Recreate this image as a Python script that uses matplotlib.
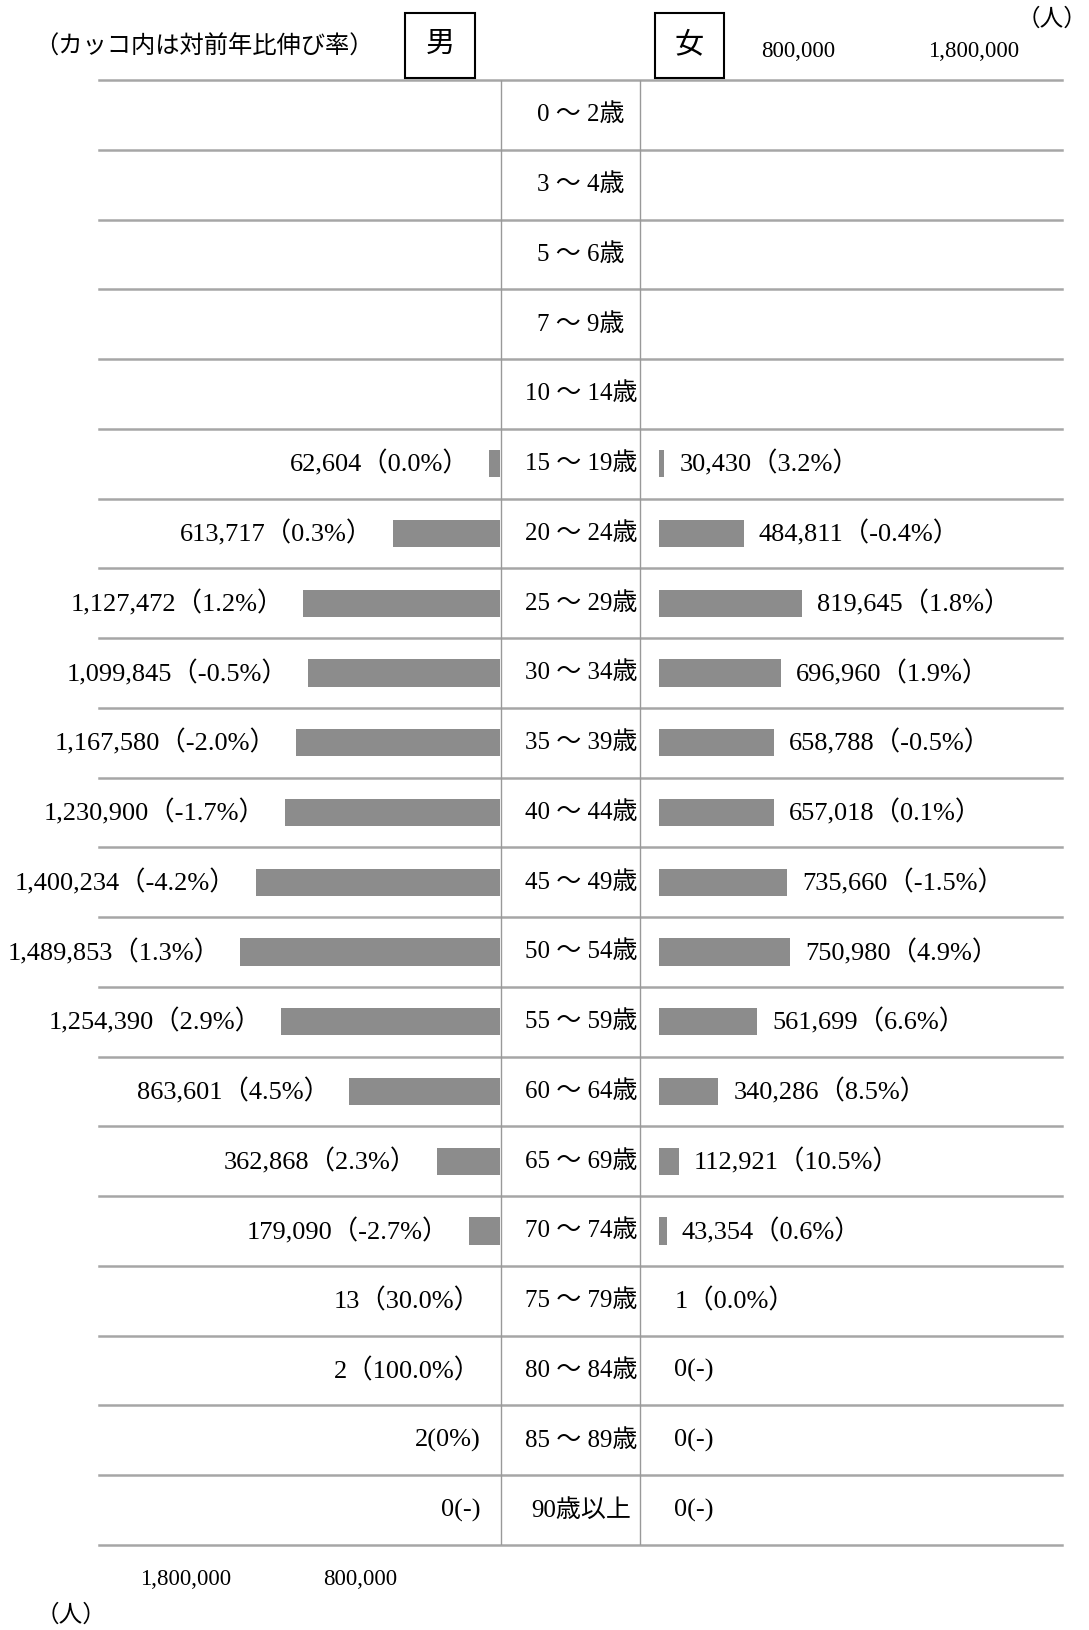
import matplotlib.pyplot as plt
from matplotlib.patches import Rectangle

plt.rcParams['font.family'] = ['Liberation Serif', 'Noto Sans CJK JP']

ages = ['0 ～ 2歳', '3 ～ 4歳', '5 ～ 6歳', '7 ～ 9歳', '10 ～ 14歳',
        '15 ～ 19歳', '20 ～ 24歳', '25 ～ 29歳', '30 ～ 34歳', '35 ～ 39歳',
        '40 ～ 44歳', '45 ～ 49歳', '50 ～ 54歳', '55 ～ 59歳', '60 ～ 64歳',
        '65 ～ 69歳', '70 ～ 74歳', '75 ～ 79歳', '80 ～ 84歳', '85 ～ 89歳',
        '90歳以上']
male = [0, 0, 0, 0, 0, 62604, 613717, 1127472, 1099845, 1167580, 1230900,
        1400234, 1489853, 1254390, 863601, 362868, 179090, 13, 2, 2, 0]
male_rate = [None, None, None, None, None, '（0.0%）', '（0.3%）', '（1.2%）',
             '（-0.5%）', '（-2.0%）', '（-1.7%）', '（-4.2%）', '（1.3%）',
             '（2.9%）', '（4.5%）', '（2.3%）', '（-2.7%）', '（30.0%）',
             '（100.0%）', '(0%)', '(-)']
female = [0, 0, 0, 0, 0, 30430, 484811, 819645, 696960, 658788, 657018,
          735660, 750980, 561699, 340286, 112921, 43354, 1, 0, 0, 0]
female_rate = [None, None, None, None, None, '（3.2%）', '（-0.4%）', '（1.8%）',
               '（1.9%）', '（-0.5%）', '（0.1%）', '（-1.5%）', '（4.9%）',
               '（6.6%）', '（8.5%）', '（10.5%）', '（0.6%）', '（0.0%）',
               '(-)', '(-)', '(-)']
ticks = [800000, 1800000]
tick_labels = ['800,000', '1,800,000']

W, H = 1089, 1630
fig = plt.figure(figsize=(W / 100, H / 100), dpi=100)


def rect(x0, y0, x1, y1):
    return [x0 / W, 1 - y1 / H, (x1 - x0) / W, (y1 - y0) / H]


top, bot = 80, 1545
n = len(ages)
per_m = 174.6  # px per million
ypos = [i + 0.5 for i in range(n)]
bar_color = '#8c8c8c'
fs = 19

# grid lines
ax_bg = fig.add_axes(rect(99, top, 1062, bot))
ax_bg.set_xlim(99, 1062)
ax_bg.set_ylim(n, 0)
ax_bg.axis('off')
for k in range(n + 1):
    ax_bg.axhline(k, color='#a6a6a6', lw=1.8, clip_on=False)
ax_bg.vlines([501, 640], 0, n, color='#999999', lw=1)
for y, a in zip(ypos, ages):
    ax_bg.text(581, y, a, ha='center', va='center', fontsize=18)

# male
ax_m = fig.add_axes(rect(99, top, 500, bot))
ax_m.set_xlim(401 / per_m * 1e6, 0)
ax_m.set_ylim(n, 0)
ax_m.barh(ypos, male, height=0.39, color=bar_color)
for y, v, r in zip(ypos, male, male_rate):
    if r is None:
        continue
    ax_m.annotate(f'{v:,}{r}', (v, y), xytext=(-14, 0), textcoords='offset points',
                  ha='right', va='center', fontsize=fs)
ax_m.set_xticks(ticks, tick_labels, fontsize=16.5)
ax_m.tick_params(length=0, pad=17, left=False, labelleft=False)
for s in ax_m.spines.values():
    s.set_visible(False)
ax_m.patch.set_alpha(0)

# female
ax_f = fig.add_axes(rect(659, top, 1062, bot))
ax_f.set_xlim(0, 403 / per_m * 1e6)
ax_f.set_ylim(n, 0)
ax_f.barh(ypos, female, height=0.39, color=bar_color)
for y, v, r in zip(ypos, female, female_rate):
    if r is None:
        continue
    ax_f.annotate(f'{v:,}{r}', (v, y), xytext=(11, 0), textcoords='offset points',
                  ha='left', va='center', fontsize=fs)
ax_f.xaxis.tick_top()
ax_f.set_xticks(ticks, tick_labels, fontsize=16.5)
ax_f.tick_params(length=0, pad=13, left=False, labelleft=False)
for s in ax_f.spines.values():
    s.set_visible(False)
ax_f.patch.set_alpha(0)

# header
fig.text(34 / W, 1 - 47 / H, '（カッコ内は対前年比伸び率）', ha='left', va='center', fontsize=17.5)
for x0, x1, t in [(405, 475, '男'), (655, 724, '女')]:
    fig.add_artist(Rectangle((x0 / W, 1 - 78 / H), (x1 - x0) / W, 65 / H,
                             transform=fig.transFigure, fill=False, ec='black', lw=1.5))
    fig.text((x0 + x1) / 2 / W, 1 - 45 / H, t, ha='center', va='center', fontsize=21)
fig.text(1087 / W, 1 - 19 / H, '（人）', ha='right', va='center', fontsize=17)
fig.text(71 / W, 1 - 1616 / H, '（人）', ha='center', va='center', fontsize=17)

fig.savefig('out.png', dpi=100)
